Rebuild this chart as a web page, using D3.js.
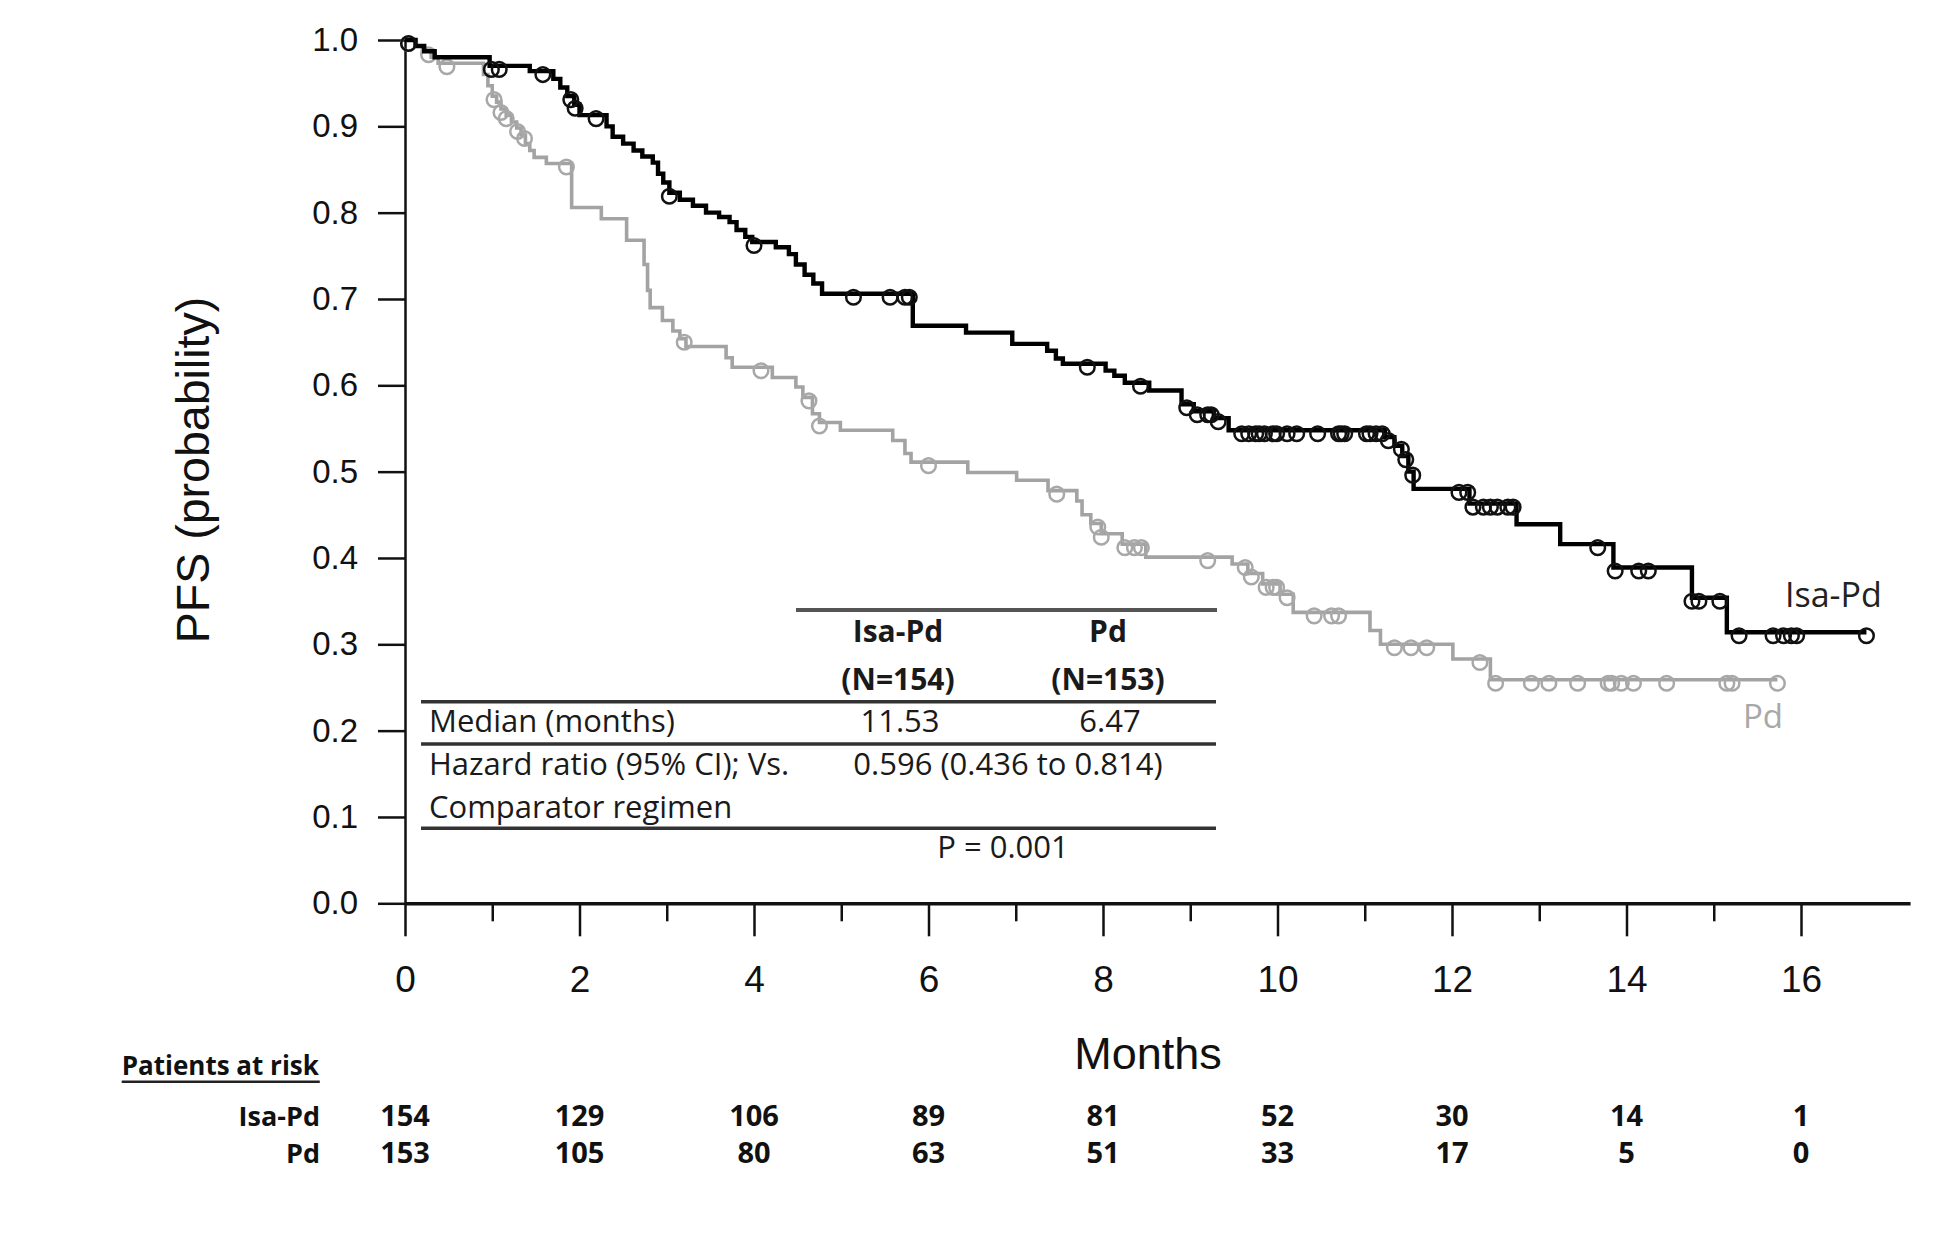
<!DOCTYPE html>
<html>
<head>
<meta charset="utf-8">
<script src="https://cdn.jsdelivr.net/npm/d3@7"></script>
<style>
  html, body { margin: 0; padding: 0; background: #fff; }
  svg { display: block; }
</style>
</head>
<body>
<script>
// ---------------- DATA ----------------
// Kaplan-Meier steps: [month, survival probability after the step]
const isaSteps = [
  [0, 1.0], [0.12, 0.993], [0.22, 0.987], [0.34, 0.980], [0.97, 0.970], [1.43, 0.964],
  [1.70, 0.955], [1.78, 0.945], [1.86, 0.935], [1.94, 0.925], [2.0, 0.913], [2.31, 0.900],
  [2.38, 0.888], [2.50, 0.880], [2.62, 0.872], [2.72, 0.865], [2.84, 0.858], [2.90, 0.845],
  [2.96, 0.835], [3.03, 0.823], [3.15, 0.815], [3.30, 0.808], [3.45, 0.800], [3.60, 0.795],
  [3.72, 0.789], [3.80, 0.780], [3.90, 0.772], [3.98, 0.766], [4.25, 0.760], [4.40, 0.752],
  [4.48, 0.740], [4.58, 0.728], [4.68, 0.718], [4.78, 0.706], [5.82, 0.669], [6.43, 0.661],
  [6.96, 0.648], [7.36, 0.640], [7.46, 0.631], [7.54, 0.625], [8.03, 0.617], [8.13, 0.611],
  [8.25, 0.603], [8.53, 0.594], [8.90, 0.578], [9.04, 0.570], [9.27, 0.562], [9.44, 0.548],
  [11.23, 0.540], [11.34, 0.530], [11.43, 0.518], [11.50, 0.500], [11.56, 0.480],
  [12.20, 0.463], [12.74, 0.439], [13.24, 0.416], [13.85, 0.389], [14.75, 0.354], [15.15, 0.314]
];
const isaEnd = 16.75;
const isaCensor = [
  0.04, 0.99, 1.08, 1.58, 1.90, 1.95, 2.19, 3.03, 4.0, 5.14, 5.56, 5.73, 5.78, 7.82, 8.43,
  8.96, 9.08, 9.20, 9.24, 9.32, 9.59, 9.67, 9.75, 9.79, 9.85, 9.95, 9.99, 10.11, 10.22,
  10.46, 10.70, 10.73, 10.77, 11.02, 11.06, 11.13, 11.20, 11.27, 11.42, 11.47, 11.55,
  12.08, 12.18, 12.24, 12.36, 12.44, 12.52, 12.64, 12.70, 13.67, 13.87, 14.14, 14.25,
  14.75, 14.83, 15.07, 15.29, 15.68, 15.80, 15.89, 15.95, 16.75
];

const pdSteps = [
  [0, 1.0], [0.13, 0.993], [0.20, 0.987], [0.30, 0.980], [0.38, 0.973], [0.90, 0.960],
  [0.95, 0.947], [1.00, 0.935], [1.05, 0.928], [1.10, 0.920], [1.16, 0.913], [1.22, 0.905],
  [1.28, 0.898], [1.33, 0.890], [1.38, 0.880], [1.43, 0.872], [1.48, 0.864], [1.62, 0.857],
  [1.91, 0.806], [2.25, 0.793], [2.54, 0.768], [2.74, 0.740], [2.78, 0.710], [2.81, 0.690],
  [2.95, 0.675], [3.07, 0.663], [3.15, 0.654], [3.22, 0.645], [3.68, 0.632], [3.75, 0.621],
  [4.21, 0.609], [4.48, 0.598], [4.56, 0.586], [4.67, 0.567], [4.75, 0.557], [4.99, 0.548],
  [5.59, 0.536], [5.73, 0.521], [5.80, 0.511], [6.45, 0.499], [7.01, 0.490], [7.37, 0.478],
  [7.70, 0.466], [7.76, 0.450], [7.86, 0.440], [7.98, 0.428], [8.22, 0.416], [8.49, 0.401],
  [9.48, 0.393], [9.66, 0.382], [9.83, 0.370], [10.03, 0.358], [10.18, 0.337],
  [11.06, 0.316], [11.18, 0.300], [12.01, 0.283], [12.44, 0.259]
];
const pdEnd = 15.73;
const pdCensor = [
  0.04, 0.27, 0.48, 1.02, 1.10, 1.16, 1.29, 1.37, 1.85, 3.20, 4.08, 4.63, 4.75, 6.00, 7.47,
  7.94, 7.98, 8.25, 8.36, 8.44, 9.20, 9.63, 9.70, 9.87, 9.95, 9.99, 10.11, 10.42, 10.62,
  10.70, 11.34, 11.53, 11.71, 12.32, 12.50, 12.91, 13.11, 13.44, 13.79, 13.83, 13.94,
  14.08, 14.46, 15.15, 15.21, 15.73
];

const yTicks = [0, 0.1, 0.2, 0.3, 0.4, 0.5, 0.6, 0.7, 0.8, 0.9, 1.0];
const xTicks = [0, 1, 2, 3, 4, 5, 6, 7, 8, 9, 10, 11, 12, 13, 14, 15, 16];

const riskMonths = [0, 2, 4, 6, 8, 10, 12, 14, 16];
const riskIsa = [154, 129, 106, 89, 81, 52, 30, 14, 1];
const riskPd = [153, 105, 80, 63, 51, 33, 17, 5, 0];
const riskLabels = ["Isa-Pd", "Pd"];

const tableHeaders = ["Isa-Pd", "Pd"];
const tableN = ["(N=154)", "(N=153)"];
const tableMedians = ["11.53", "6.47"];
const tableHR = "0.596 (0.436 to 0.814)";
const tableP = "P = 0.001";
const tableRowLabels = ["Median (months)", "Hazard ratio (95% CI); Vs.", "Comparator regimen"];

// ---------------- CHART ----------------
const W = 1946, H = 1245;
const svg = d3.select("body").append("svg").attr("width", W).attr("height", H)
  .style("background", "#fff");

const x = d3.scaleLinear().domain([0, 17.25]).range([405, 405 + 17.25 * 87.25]);
const y = d3.scaleLinear().domain([0, 1]).range([903.3, 40]);

const arial = "Arial, 'Liberation Sans', sans-serif";
const calib = "'Open Sans', Lato, sans-serif";

// Y axis
const yAxis = d3.axisLeft(y).tickValues(yTicks).tickFormat(d3.format(".1f"))
  .tickSize(27).tickPadding(20).tickSizeOuter(0);
const gy = svg.append("g").attr("transform", "translate(405,0)").call(yAxis);
gy.select(".domain").attr("stroke", "#111").attr("stroke-width", 2.5);
gy.selectAll(".tick line").attr("stroke", "#111").attr("stroke-width", 2.5);
gy.selectAll(".tick text").attr("font-family", arial).attr("font-size", 33).attr("fill", "#111");

// X axis
const xAxis = d3.axisBottom(x).tickValues(xTicks)
  .tickFormat(d => (d % 2 === 0 ? d : "")).tickSize(33).tickPadding(29).tickSizeOuter(0);
const gx = svg.append("g").attr("transform", `translate(0,${y(0)})`).call(xAxis);
gx.select(".domain").attr("stroke", "#111").attr("stroke-width", 3.5);
gx.selectAll(".tick line").attr("stroke", "#111").attr("stroke-width", 2.5)
  .attr("y2", d => (d % 2 === 0 ? 33 : 18));
gx.selectAll(".tick text").attr("font-family", arial).attr("font-size", 37).attr("fill", "#111");

// Axis titles
svg.append("text").attr("transform", `translate(193,470) rotate(-90)`)
  .attr("text-anchor", "middle").attr("dominant-baseline", "central")
  .attr("font-family", arial).attr("font-size", 46.5).attr("fill", "#111")
  .text("PFS (probability)");
svg.append("text").attr("x", 1148).attr("y", 1069).attr("text-anchor", "middle")
  .attr("font-family", arial).attr("font-size", 45).attr("fill", "#111").text("Months");

// KM curves
function survAt(steps, t) {
  let s = steps[0][1];
  for (const st of steps) { if (st[0] <= t) s = st[1]; else break; }
  return s;
}
const line = d3.line().x(d => x(d[0])).y(d => y(d[1])).curve(d3.curveStepAfter);

function drawCurve(steps, end, censor, color, lw, ccolor) {
  const pts = steps.concat([[end, steps[steps.length - 1][1]]]);
  svg.append("path").datum(pts).attr("d", line).attr("fill", "none")
    .attr("stroke", color).attr("stroke-width", lw).attr("stroke-linejoin", "miter");
  svg.append("g").selectAll("circle").data(censor).join("circle")
    .attr("cx", d => x(d)).attr("cy", d => y(survAt(steps, d)) + 3.5).attr("r", 7.3)
    .attr("fill", "none").attr("stroke", ccolor).attr("stroke-width", 2.5);
}
drawCurve(pdSteps, pdEnd, pdCensor, "#a3a3a3", 3.6, "#a8a8a8");
drawCurve(isaSteps, isaEnd, isaCensor, "#000", 4.4, "#111");

// Curve labels
svg.append("text").attr("x", 1785).attr("y", 607).attr("font-family", calib)
  .attr("font-size", 34).attr("fill", "#222").text("Isa-Pd");
svg.append("text").attr("x", 1743).attr("y", 728).attr("font-family", calib)
  .attr("font-size", 33).attr("fill", "#a8a8a8").text("Pd");

// Summary table
const tbl = svg.append("g").attr("font-family", calib).attr("font-size", 31).attr("fill", "#1a1a1a");
const colX = [898, 1108];
tbl.append("line").attr("x1", 796).attr("x2", 1217).attr("y1", 610).attr("y2", 610)
  .attr("stroke", "#555").attr("stroke-width", 4);
[701.7, 744, 828.3].forEach(yy => tbl.append("line").attr("x1", 421).attr("x2", 1216)
  .attr("y1", yy).attr("y2", yy).attr("stroke", "#333").attr("stroke-width", 3.5));
tableHeaders.forEach((h, i) => tbl.append("text").attr("x", colX[i]).attr("y", 641.7)
  .attr("text-anchor", "middle").attr("font-weight", "bold").attr("font-size", 30).text(h));
tableN.forEach((h, i) => tbl.append("text").attr("x", colX[i]).attr("y", 690)
  .attr("text-anchor", "middle").attr("font-weight", "bold").attr("font-size", 30).text(h));
tableMedians.forEach((h, i) => tbl.append("text").attr("x", colX[i] + 2).attr("y", 731.7)
  .attr("text-anchor", "middle").text(h));
const rowY = [731.7, 775.3, 818];
tableRowLabels.forEach((r, i) => tbl.append("text").attr("x", 429).attr("y", rowY[i]).text(r));
tbl.append("text").attr("x", 1008).attr("y", 775.3).attr("text-anchor", "middle").text(tableHR);
tbl.append("text").attr("x", 1003).attr("y", 858.3).attr("text-anchor", "middle").text(tableP);

// Patients at risk
const risk = svg.append("g").attr("font-family", calib).attr("font-size", 26)
  .attr("font-weight", "bold").attr("fill", "#111");
const prt = risk.append("text").attr("x", 121.7).attr("y", 1075).text("Patients at risk");
const bb = prt.node().getBBox();
risk.append("line").attr("x1", bb.x).attr("x2", bb.x + bb.width).attr("y1", 1081.7).attr("y2", 1081.7)
  .attr("stroke", "#222").attr("stroke-width", 2.5);
const rowBase = [1126, 1162.7];
riskLabels.forEach((l, i) => risk.append("text").attr("x", 320).attr("y", rowBase[i])
  .attr("text-anchor", "end").attr("font-size", 27).text(l));
[riskIsa, riskPd].forEach((arr, i) => {
  risk.append("g").selectAll("text").data(arr).join("text")
    .attr("x", (d, j) => x(riskMonths[j])).attr("y", rowBase[i])
    .attr("text-anchor", "middle").attr("font-size", 29).text(d => d);
});
</script>
</body>
</html>
